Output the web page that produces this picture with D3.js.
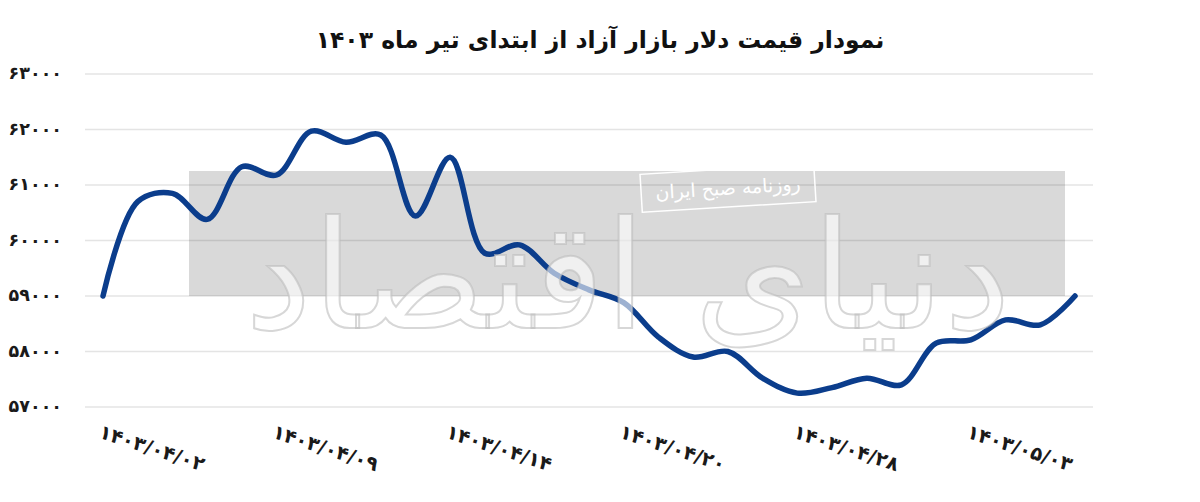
<!DOCTYPE html>
<html>
<head>
<meta charset="utf-8">
<script src="https://cdn.jsdelivr.net/npm/d3@7"></script>
<style>
  html, body { margin: 0; padding: 0; background: #fff; }
  svg { display: block; font-family: "DejaVu Sans", sans-serif; }
</style>
</head>
<body>
<div id="chart"></div>
<script>
// free-market dollar price (toman), one value per trading day
const prices = [
  59000, 60700, 60850, 60380, 61330, 61180, 61970, 61770, 61900, 60440,
  61500, 59770, 59920, 59410, 59110, 58880, 58260, 57900, 58000, 57520,
  57250, 57350, 57520, 57400, 58150, 58210, 58570, 58480, 59000
];
const xTickIndex = [0, 5, 10, 15, 20, 25];
const xTickLabels = ['۱۴۰۳/۰۴/۰۲', '۱۴۰۳/۰۴/۰۹', '۱۴۰۳/۰۴/۱۴', '۱۴۰۳/۰۴/۲۰', '۱۴۰۳/۰۴/۲۸', '۱۴۰۳/۰۵/۰۳'];
const yTicks = [57000, 58000, 59000, 60000, 61000, 62000, 63000];
const title = 'نمودار قیمت دلار بازار آزاد از ابتدای تیر ماه ۱۴۰۳';

const width = 1200, height = 502;
const faDigits = '۰۱۲۳۴۵۶۷۸۹';
const toFa = s => String(s).replace(/\d/g, d => faDigits[+d]);

const svg = d3.select('#chart').append('svg')
  .attr('width', width)
  .attr('height', height);

const x = d3.scalePoint()
  .domain(d3.range(prices.length))
  .range([103, 1075]);

const y = d3.scaleLinear()
  .domain([57000, 63000])
  .range([407, 74]);

// title
svg.append('text')
  .attr('x', 600)
  .attr('y', 48)
  .attr('text-anchor', 'middle')
  .attr('direction', 'rtl')
  .style('font-size', '23.5px')
  .style('font-weight', '700')
  .style('fill', '#111')
  .text(title);

// grid lines
svg.append('g')
  .selectAll('line')
  .data(yTicks)
  .enter()
  .append('line')
  .attr('x1', 85)
  .attr('x2', 1093)
  .attr('y1', d => y(d))
  .attr('y2', d => y(d))
  .attr('stroke', '#e4e4e4')
  .attr('stroke-width', 1.3);

// y labels
svg.append('g')
  .selectAll('text')
  .data(yTicks)
  .enter()
  .append('text')
  .attr('x', 62)
  .attr('y', d => y(d))
  .attr('dy', '0.3em')
  .attr('text-anchor', 'end')
  .style('font-size', '17.5px')
  .style('font-weight', '700')
  .style('fill', '#1a1a1a')
  .text(d => toFa(d));

// grey box of the watermark
svg.append('rect')
  .attr('x', 189)
  .attr('y', 171)
  .attr('width', 1065 - 189)
  .attr('height', 296 - 171)
  .attr('fill', '#000')
  .attr('fill-opacity', 0.15);

// price line
const line = d3.line()
  .x((d, i) => x(i))
  .y(d => y(d))
  .curve(d3.curveCatmullRom.alpha(0.5));

svg.append('path')
  .datum(prices)
  .attr('fill', 'none')
  .attr('stroke', '#0b3d8c')
  .attr('stroke-width', 5.5)
  .attr('stroke-linecap', 'round')
  .attr('stroke-linejoin', 'round')
  .attr('d', line);

// big calligraphy watermark (approximation)
svg.append('text')
  .attr('x', 628)
  .attr('y', 328)
  .attr('text-anchor', 'middle')
  .attr('direction', 'rtl')
  .style('font-size', '150px')
  .style('fill', '#fff')
  .style('fill-opacity', 0.6)
  .style('stroke', '#bdbdbd')
  .style('stroke-opacity', 0.6)
  .style('stroke-width', 2)
  .text('دنیای اقتصاد');

// small stamp
const stamp = svg.append('g')
  .attr('transform', 'translate(728,188) rotate(-3.5)');
stamp.append('rect')
  .attr('x', -87)
  .attr('y', -19)
  .attr('width', 174)
  .attr('height', 38)
  .attr('fill', 'none')
  .attr('stroke', '#fff')
  .attr('stroke-width', 1.5);
stamp.append('text')
  .attr('text-anchor', 'middle')
  .attr('dy', '0.35em')
  .attr('direction', 'rtl')
  .style('font-size', '19px')
  .style('fill', '#fff')
  .text('روزنامه صبح ایران');

// x labels
svg.append('g')
  .selectAll('text')
  .data(xTickIndex)
  .enter()
  .append('text')
  .attr('transform', d => `translate(${x(d) - 3},431) rotate(18)`)
  .attr('text-anchor', 'start')
  .attr('dy', '0.35em')
  .style('font-size', '19.5px')
  .style('font-weight', '700')
  .style('fill', '#1a1a1a')
  .text((d, i) => xTickLabels[i]);
</script>
</body>
</html>
